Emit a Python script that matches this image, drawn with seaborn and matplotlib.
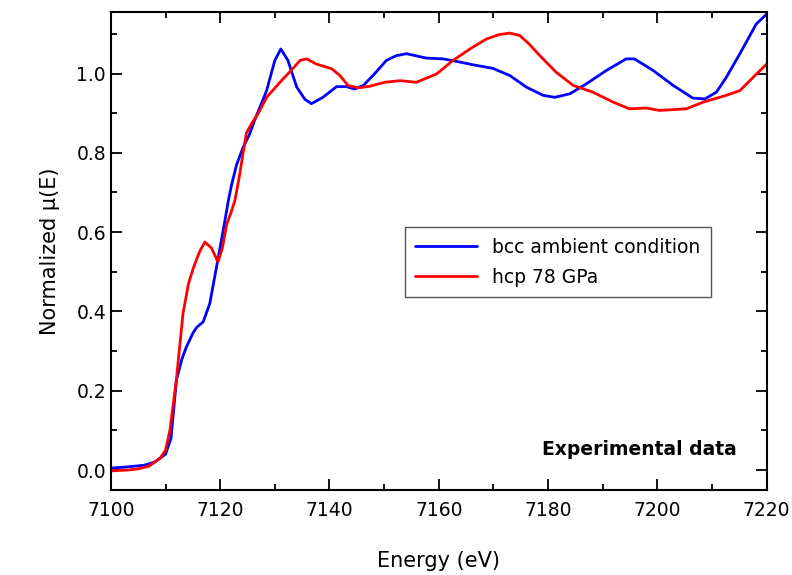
import numpy as np
import pandas as pd
import matplotlib
matplotlib.use("Agg")
import matplotlib.pyplot as plt
import seaborn as sns
from matplotlib.ticker import MultipleLocator

# bcc ambient condition
bcc_e = [7100, 7103, 7106, 7108, 7110, 7111, 7112.0, 7113.0, 7113.8, 7115.0, 7115.7, 7116.9,
         7118.1, 7119.3, 7120.5, 7121.5, 7122.1, 7123.0, 7124.2, 7125.4, 7126.3, 7128.5, 7130.0,
         7131.1, 7132.4, 7134.0, 7135.5, 7136.7, 7138.8, 7141.3, 7143.1, 7144.6, 7146.2, 7148.3,
         7150.4, 7152.2, 7154.1, 7157.7, 7160.8, 7163.5, 7166.3, 7169.9, 7173.0, 7176.0, 7179.1,
         7181.2, 7184.0, 7187.0, 7190.7, 7194.3, 7195.8, 7199.2, 7202.9, 7206.5, 7208.7, 7210.8,
         7212.6, 7215.1, 7218.1, 7220]
bcc_mu = [0.005, 0.008, 0.012, 0.02, 0.04, 0.08, 0.227, 0.28, 0.31, 0.345, 0.36, 0.374,
          0.42, 0.51, 0.60, 0.68, 0.72, 0.77, 0.814, 0.848, 0.882, 0.957, 1.033,
          1.062, 1.033, 0.966, 0.935, 0.924, 0.94, 0.967, 0.967, 0.961, 0.97, 1.0,
          1.033, 1.045, 1.05, 1.039, 1.037, 1.03, 1.022, 1.013, 0.995, 0.966, 0.945,
          0.94, 0.949, 0.974, 1.008, 1.037, 1.037, 1.008, 0.97, 0.938, 0.936, 0.953,
          0.99, 1.05, 1.125, 1.15]

# hcp 78 GPa
hcp_e = [7100, 7103, 7105, 7107, 7109, 7110, 7110.8, 7112.0, 7113.2, 7114.2, 7115.1, 7116.2,
         7117.2, 7118.4, 7119.6, 7120.4, 7121.2, 7122.0, 7122.7, 7123.5, 7124.2, 7124.8, 7125.8,
         7126.9, 7128.5, 7131.2, 7133.0, 7134.6, 7135.8, 7137.6, 7140.4, 7141.9, 7143.4, 7145.2,
         7147.4, 7150.1, 7152.9, 7155.9, 7159.6, 7162.6, 7165.7, 7168.7, 7171.0, 7173.0, 7174.8,
         7176.5, 7178.5, 7181.5, 7184.6, 7188.2, 7191.9, 7194.9, 7198.0, 7200.4, 7205.3, 7208.4,
         7212.6, 7215.1, 7217.5, 7220]
hcp_mu = [-0.002, 0.0, 0.003, 0.01, 0.03, 0.05, 0.10, 0.23, 0.395, 0.47, 0.51, 0.55,
          0.575, 0.56, 0.525, 0.56, 0.62, 0.65, 0.68, 0.74, 0.80, 0.85, 0.875,
          0.898, 0.94, 0.982, 1.008, 1.033, 1.037, 1.024, 1.012, 0.995, 0.97, 0.964,
          0.968, 0.978, 0.982, 0.978, 0.999, 1.033, 1.062, 1.087, 1.098, 1.102, 1.096,
          1.075, 1.045, 1.003, 0.97, 0.953, 0.928, 0.911, 0.913, 0.907, 0.911, 0.928,
          0.945, 0.957, 0.99, 1.024]

bcc = pd.DataFrame({"Energy": bcc_e, "mu": bcc_mu, "sample": "bcc ambient condition"})
hcp = pd.DataFrame({"Energy": hcp_e, "mu": hcp_mu, "sample": "hcp 78 GPa"})
dat = pd.concat([bcc, hcp], ignore_index=True)

sns.set_style("ticks", rc={"text.color": "black", "axes.labelcolor": "black",
                           "xtick.color": "black", "ytick.color": "black",
                           "axes.edgecolor": "black"})
plt.rcParams['font.family'] = ['DejaVu Sans']

fig = plt.figure(figsize=(7.92, 5.75), dpi=100)
ax = fig.add_axes([0.140, 0.148, 0.828, 0.831])
sns.lineplot(data=dat, x="Energy", y="mu", hue="sample", sort=False,
             palette={"bcc ambient condition": "#0000ff", "hcp 78 GPa": "#ff0000"},
             linewidth=2.0, ax=ax)

ax.set_xlim(7100, 7220)
ax.set_ylim(-0.05, 1.155)
ax.xaxis.set_major_locator(MultipleLocator(20))
ax.xaxis.set_minor_locator(MultipleLocator(10))
ax.yaxis.set_minor_locator(MultipleLocator(0.1))
ax.set_yticks([0.0, 0.2, 0.4, 0.6, 0.8, 1.0])
ax.tick_params(which="both", direction="in", top=True, right=True, width=1.3, labelsize=13.5)
ax.tick_params(which="major", length=8)
ax.tick_params(which="minor", length=4)
ax.tick_params(axis="x", pad=8)
for s in ax.spines.values():
    s.set_linewidth(1.5)

ax.set_xlabel("Energy (eV)", fontsize=15, labelpad=22)
ax.set_ylabel("Normalized \u03bc(E)", fontsize=15, labelpad=12)

leg = ax.legend(loc="upper left", bbox_to_anchor=(0.434, 0.569), fontsize=13.5,
                frameon=True, fancybox=False, handlelength=3.3, borderpad=0.55,
                labelspacing=0.6)
leg.get_frame().set_edgecolor("#555555")
leg.get_frame().set_linewidth(1.0)
leg.get_frame().set_alpha(1)

ax.text(0.955, 0.085, "Experimental data", transform=ax.transAxes, ha="right", va="center",
        fontsize=13.5, fontweight="bold")

fig.patch.set_facecolor('white')
fig.savefig("out.png", dpi=100)
plt.close(fig)
